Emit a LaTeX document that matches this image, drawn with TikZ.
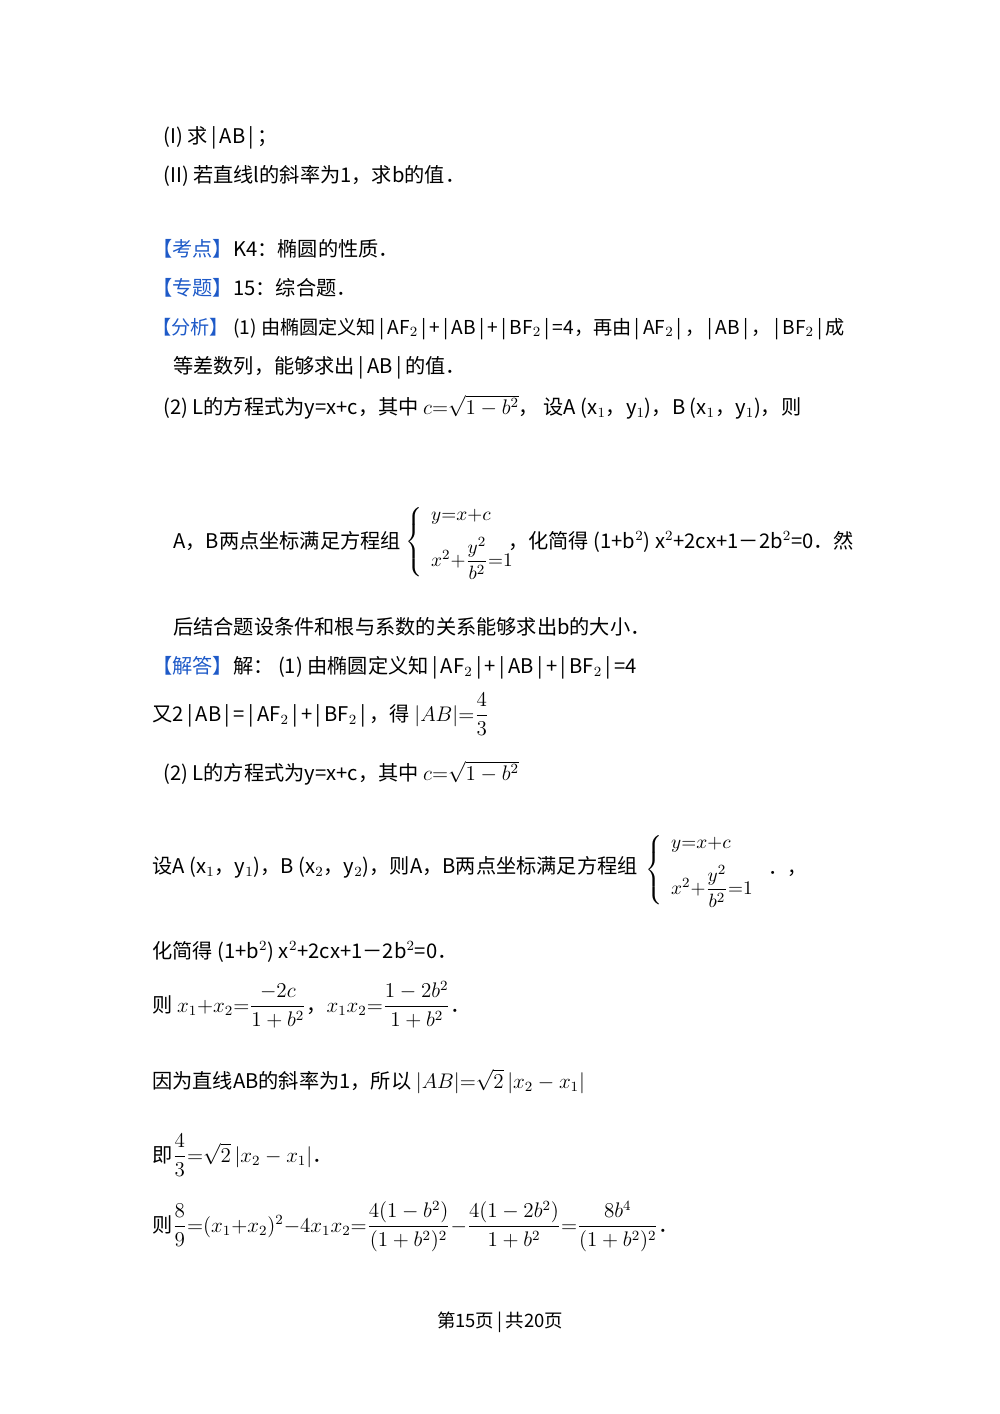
\documentclass[tikz,border=0pt]{standalone}
\usepackage{amsmath}
\usepackage{fontspec}
\setmainfont{Noto Sans CJK SC}
\definecolor{kblue}{RGB}{30,90,200}
\begin{document}
\begin{tikzpicture}[x=0.02cm,y=-0.02cm,
  t/.style={anchor=base west,inner sep=0pt,font=\fontsize{11.5pt}{13pt}\selectfont},
  m/.style={anchor=base west,inner sep=0pt,font=\fontsize{11pt}{13pt}\selectfont}]
\useasboundingbox (0,0) rectangle (1000,1414);
\newcommand{\kh}[1]{\textcolor{kblue}{【#1】}}
\newcommand{\ab}[1]{\,|\,#1\,|\,}
\node[t] (l1) at (163,143) {(I)\ 求\ab{AB}；};
\node[t] (l2) at (163,182) {(II)\ 若直线l的斜率为1，求b的值．};
\node[t] (l3) at (152,256) {\kh{考点}K4：椭圆的性质．};
\node[t] (l4) at (152,295) {\kh{专题}15：综合题．};
\node[t,font=\fontsize{10.9pt}{13pt}\selectfont] (l5) at (152,334) {\kh{分析}\ (1) 由椭圆定义知\ab{AF$_2$}+\ab{AB}+\ab{BF$_2$}=4，再由\ab{AF$_2$}，\ab{AB}，\ab{BF$_2$}成};
\node[t] (l6) at (173,373) {等差数列，能够求出\ab{AB}的值．};
\node[t] (l7) at (163,414) {(2) L的方程式为y=x+c，其中 $c{=}\sqrt{1-b^2}$，\ 设A (x$_1$，y$_1$)，B (x$_1$，y$_1$)，则};
\node[t] (l8) at (173,548) {A，B两点坐标满足方程组};
\node[m,anchor=west] (s1) at (405,542) {$\left\{\begin{array}{l} y{=}x{+}c\\[6pt] x^2{+}\dfrac{y^2}{b^2}{=}1\end{array}\right.$};
\node[t] (l8b) at (508,548) {，化简得 (1+b$^2$) x$^2$+2cx+1－2b$^2$=0．然};
\node[t] (l9) at (173,634) {后结合题设条件和根与系数的关系能够求出b的大小．};
\node[t] (l10) at (152,673) {\kh{解答}解：\ (1) 由椭圆定义知\ab{AF$_2$}+\ab{AB}+\ab{BF$_2$}=4};
\node[t] (l11) at (152,721) {又2\ab{AB}=\ab{AF$_2$}+\ab{BF$_2$}，得 $|AB|{=}\dfrac{4}{3}$};
\node[t] (l12) at (163,780) {(2) L的方程式为y=x+c，其中 $c{=}\sqrt{1-b^2}$};
\node[t] (l13) at (152,873) {设A (x$_1$，y$_1$)，B (x$_2$，y$_2$)，则A，B两点坐标满足方程组};
\node[m,anchor=west] (s2) at (645,870) {$\left\{\begin{array}{l} y{=}x{+}c\\[6pt] x^2{+}\dfrac{y^2}{b^2}{=}1\end{array}\right.$\ ．，};
\node[t] (l14) at (152,958) {化简得 (1+b$^2$) x$^2$+2cx+1－2b$^2$=0．};
\node[t] (l15) at (152,1012) {则 $x_1{+}x_2{=}\dfrac{-2c}{1+b^2}$，$x_1x_2{=}\dfrac{1-2b^2}{1+b^2}$．};
\node[t] (l16) at (152,1088) {因为直线AB的斜率为1，所以 $|AB|{=}\sqrt{2}\,|x_2-x_1|$};
\node[t] (l17) at (152,1162) {即$\dfrac{4}{3}{=}\sqrt{2}\,|x_2-x_1|$．};
\node[t] (l18) at (152,1232) {则$\dfrac{8}{9}{=}(x_1{+}x_2)^2{-}4x_1x_2{=}\dfrac{4(1-b^2)}{(1+b^2)^2}{-}\dfrac{4(1-2b^2)}{1+b^2}{=}\dfrac{8b^4}{(1+b^2)^2}$．};
\node[t,anchor=base,font=\fontsize{10.5pt}{12pt}\selectfont] (ft) at (500,1327) {第15页\,|\,共20页};
\end{tikzpicture}
\end{document}
